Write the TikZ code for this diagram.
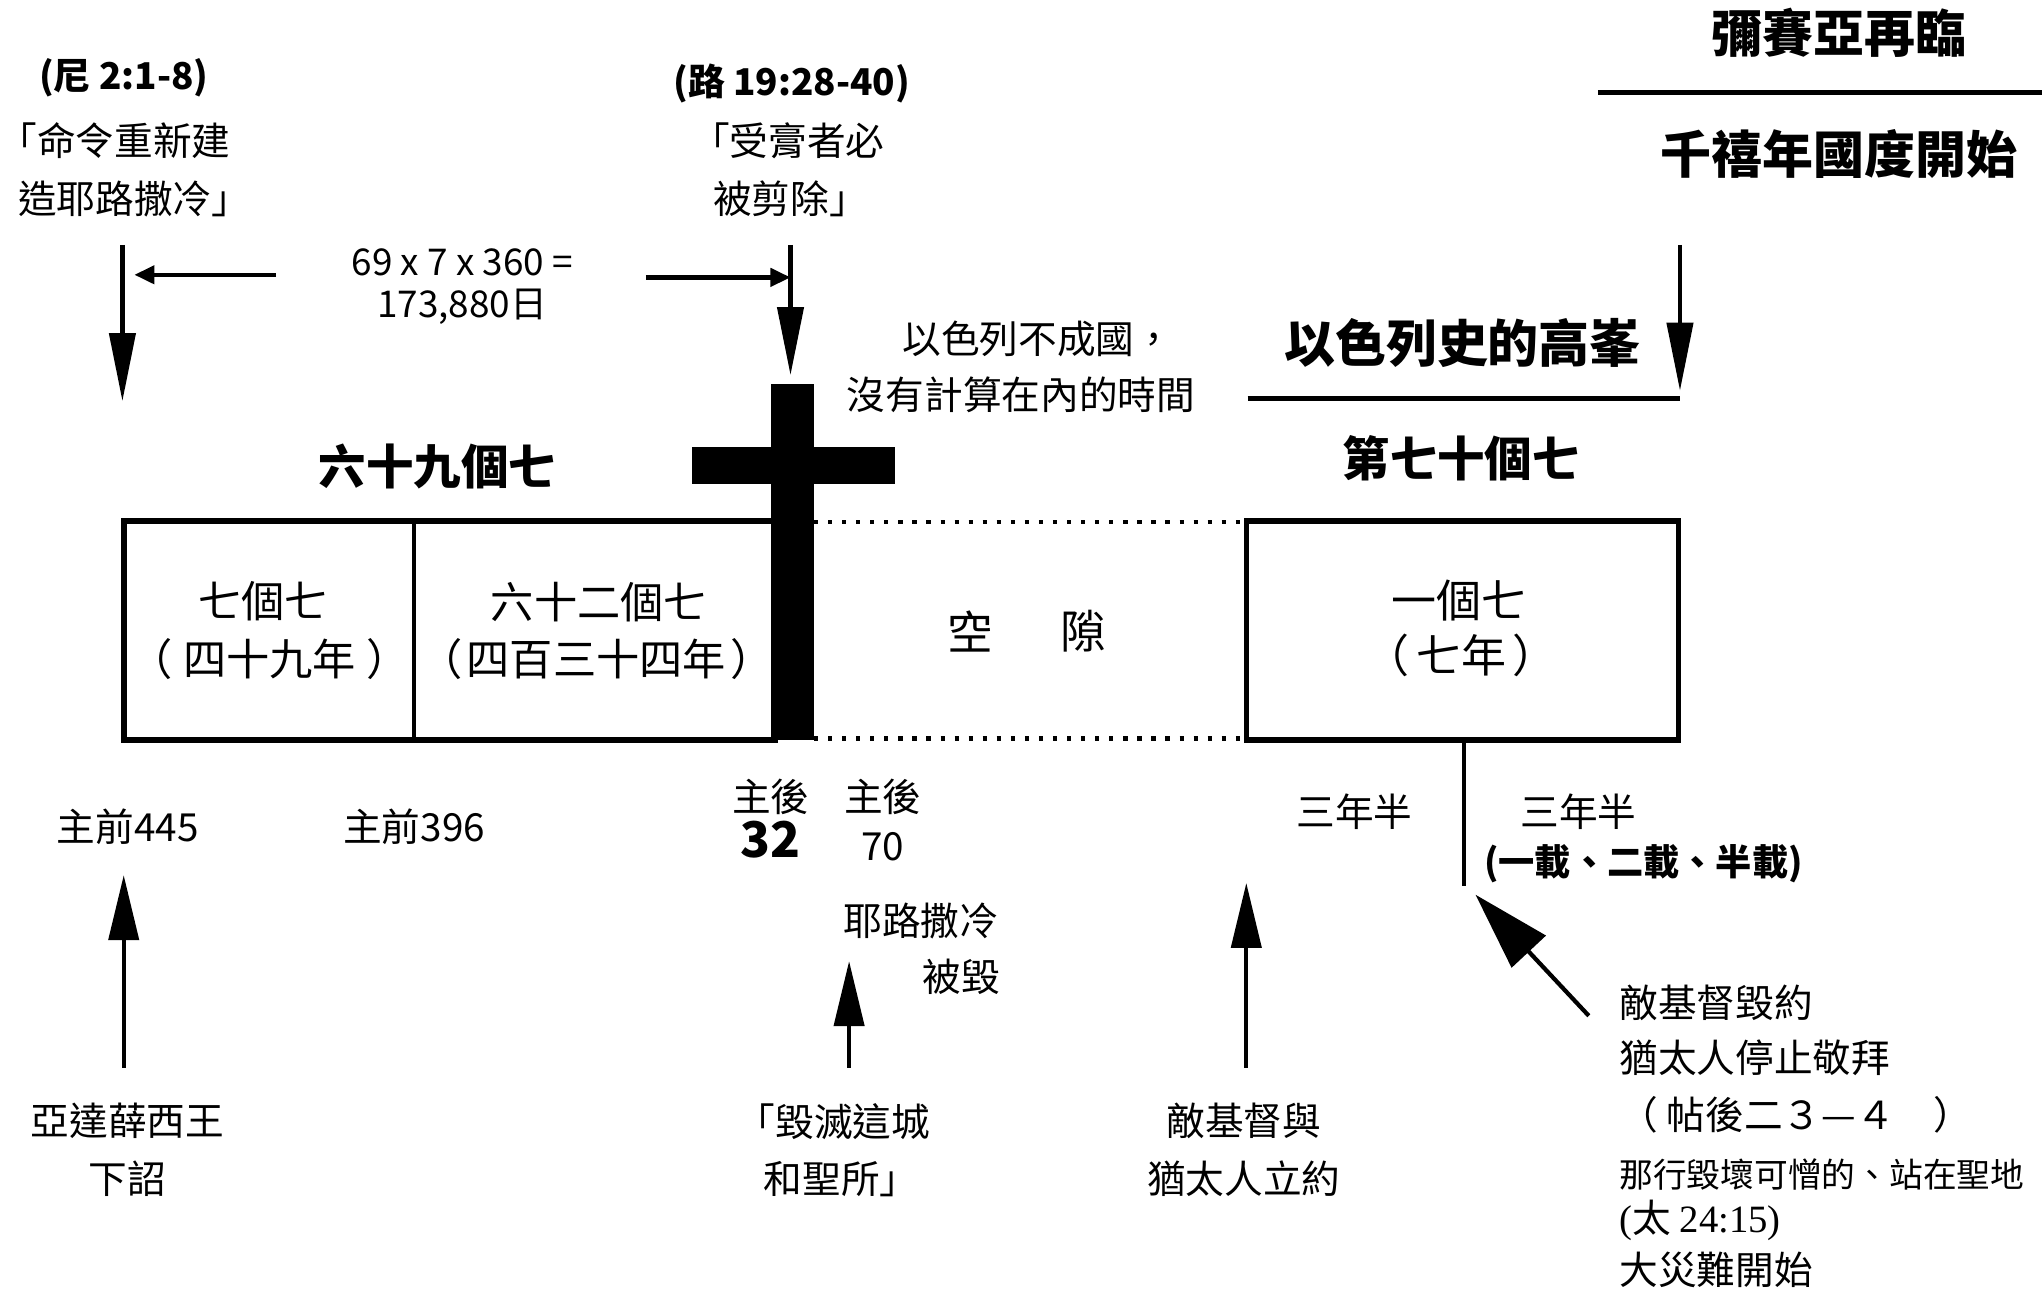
\documentclass[tikz,border=0pt]{standalone}
\usepackage{fontspec}
\setmainfont{Noto Sans CJK TC}
\newfontfamily\timesfont{Liberation Serif}
\usetikzlibrary{arrows.meta}
\begin{document}
\begin{tikzpicture}[x=0.1302mm,y=-0.1302mm,
    lite/.style={inner sep=0pt,font=\fontsize{11}{16.5}\selectfont},
    heavy/.style={inner sep=0pt,font=\fontsize{14}{17}\selectfont\bfseries},
    inbox/.style={inner sep=0pt,font=\fontsize{12.3}{16.5}\selectfont},
    shaft/.style={line width=1.2pt},
    downtip/.style={shaft,-{Triangle[length=6.8mm,width=2.6mm]}},
    uptip/.style={shaft,-{Triangle[length=6.5mm,width=3mm]}},
    sidetip/.style={shaft,-{Triangle[length=2mm,width=1.8mm]}},
    bar/.style={line width=1.6pt}]
    \useasboundingbox (0,0) rectangle (1568,990);
    \node[heavy,font=\fontsize{10.5}{13}\selectfont\bfseries] (neh) at (95,60) {(尼 2:1-8)};
    \node[lite] (cmdA) at (88,108) {「命令重新建};
    \node[lite] (cmdB) at (103,153) {造耶路撒冷」};
    \node[heavy,font=\fontsize{10.5}{13}\selectfont\bfseries] (luke) at (608,64) {(路 19:28-40)};
    \node[lite] (cutA) at (605,108) {「受膏者必};
    \node[lite] (cutB) at (607,153) {被剪除」};
    \node[lite,align=center,font=\fontsize{10.5}{12}\selectfont] (calc) at (355,220) {69 x 7 x 360 =\\173,880日};
    \coordinate (decree) at (94,188);
    \coordinate (decreeEnd) at (94,308);
    \coordinate (entry) at (607,188);
    \coordinate (entryEnd) at (607,288);
    \draw[downtip] (decree) -- (decreeEnd);
    \draw[downtip] (entry) -- (entryEnd);
    \draw[sidetip] (212,211) -- ([xshift=1.2mm]decree |- 0,211);
    \draw[sidetip] (496,213) -- (entry |- 0,213);
    \node[lite] (gapA) at (797,260) {以色列不成國，};
    \node[lite] (gapB) at (784,303) {沒有計算在內的時間};
    \node[heavy,font=\fontsize{14.5}{17}\selectfont\bfseries] (peak) at (1123,263) {以色列史的高峯};
    \node[heavy,font=\fontsize{14.5}{17}\selectfont\bfseries] (advent) at (1412,25) {彌賽亞再臨};
    \node[heavy,font=\fontsize{14.5}{17}\selectfont\bfseries] (kingdom) at (1412,118) {千禧年國度開始};
    \coordinate (peakL) at (958,306);
    \coordinate (peakR) at (1290,306);
    \coordinate (adventL) at (1227,71);
    \coordinate (adventR) at (1568,71);
    \coordinate (return) at (1290,188);
    \coordinate (returnEnd) at (1290,300);
    \draw[bar] (peakL) -- (peakR);
    \draw[bar] (adventL) -- (adventR);
    \draw[downtip] (return) -- (returnEnd);
    \node[heavy,font=\fontsize{13.5}{17}\selectfont\bfseries] (sixtynine) at (336,358) {六十九個七};
    \node[heavy,font=\fontsize{13.5}{17}\selectfont\bfseries] (seventieth) at (1122,352) {第七十個七};
    \draw[bar] (95,400) rectangle (595,568);
    \draw[shaft] (318,400) -- (318,568);
    \draw[bar] (957,400) rectangle (1289,568);
    \draw[shaft,dash pattern=on 1.2pt off 2.8pt] (625,401) -- (957,401);
    \draw[shaft,dash pattern=on 1.2pt off 2.8pt] (625,567) -- (957,567);
    \fill (592,295) rectangle (625,568);
    \fill (531,343) rectangle (687,372);
    \node[inbox] (sevenA) at (202,462) {七個七};
    \node[inbox] (sevenB) at (207,506) {（\hspace{0.25em}四十九年\hspace{0.25em}）};
    \node[inbox] (sixtytwoA) at (460,462) {六十二個七};
    \node[inbox] (sixtytwoB) at (458,506) {（\hspace{0.1em}四百三十四年\hspace{0.1em}）};
    \node[inbox,font=\fontsize{13}{16}\selectfont] (gapL) at (745,485) {空};
    \node[inbox,font=\fontsize{13}{16}\selectfont] (gapR) at (832,485) {隙};
    \node[inbox,font=\fontsize{12.8}{16}\selectfont] (oneA) at (1120,461) {一個七};
    \node[inbox,font=\fontsize{12.8}{16}\selectfont] (oneB) at (1122,503) {（\hspace{0.15em}七年\hspace{0.15em}）};
    \coordinate (half) at (1124,568);
    \coordinate (halfEnd) at (1124,680);
    \draw[shaft] (half) -- (halfEnd);
    \node[lite] (halfA) at (1040,623) {三年半};
    \node[lite] (halfB) at (1212,623) {三年半};
    \node[lite,font=\fontsize{10.3}{13}\selectfont\bfseries] (times) at (1262,663) {(一載、二載、半載)};
    \node[lite] (bc445) at (98,635) {主前445};
    \node[lite] (bc396) at (318,635) {主前396};
    \node[lite] (adA) at (592,612) {主後};
    \node[lite,font=\fontsize{14}{16}\selectfont\bfseries] (ad32) at (592,645) {32};
    \node[lite] (adB) at (678,612) {主後};
    \node[lite] (ad70) at (678,650) {70};
    \coordinate (kingFrom) at (95,820);
    \coordinate (kingTo) at (95,672);
    \coordinate (cityFrom) at (652,820);
    \coordinate (cityTo) at (652,738);
    \coordinate (pactFrom) at (957,820);
    \coordinate (pactTo) at (957,678);
    \coordinate (breakFrom) at (1220,780);
    \coordinate (breakTo) at (1133,687);
    \draw[uptip] (kingFrom) -- (kingTo);
    \draw[uptip] (cityFrom) -- (cityTo);
    \draw[uptip] (pactFrom) -- (pactTo);
    \draw[shaft,-{Triangle[length=7.8mm,width=4.6mm]}] (breakFrom) -- (breakTo);
    \node[lite] (kingA) at (98,861) {亞達薛西王};
    \node[lite] (kingB) at (98,905) {下詔};
    \node[lite] (fallA) at (707,707) {耶路撒冷};
    \node[lite] (fallB) at (738,750) {被毀};
    \node[lite] (cityA) at (640,861) {「毀滅這城};
    \node[lite] (cityB) at (646,905) {和聖所」};
    \node[lite] (pactA) at (955,861) {敵基督與};
    \node[lite] (pactB) at (955,905) {猶太人立約};
    \node[lite,anchor=west] (breakA) at (1243,770) {敵基督毀約};
    \node[lite,anchor=west] (breakB) at (1243,812) {猶太人停止敬拜};
    \node[lite,anchor=west] (breakC) at (1243,856) {（ 帖後二３—４　）};
    \node[lite,anchor=west,font=\fontsize{9.6}{13}\selectfont] (breakD) at (1243,902) {那行毀壞可憎的、站在聖地};
    \node[lite,anchor=west] (breakE) at (1243,937) {{\timesfont(}太 {\timesfont 24:15)}};
    \node[lite,anchor=west] (breakF) at (1243,975) {大災難開始};
\end{tikzpicture}
\end{document}
